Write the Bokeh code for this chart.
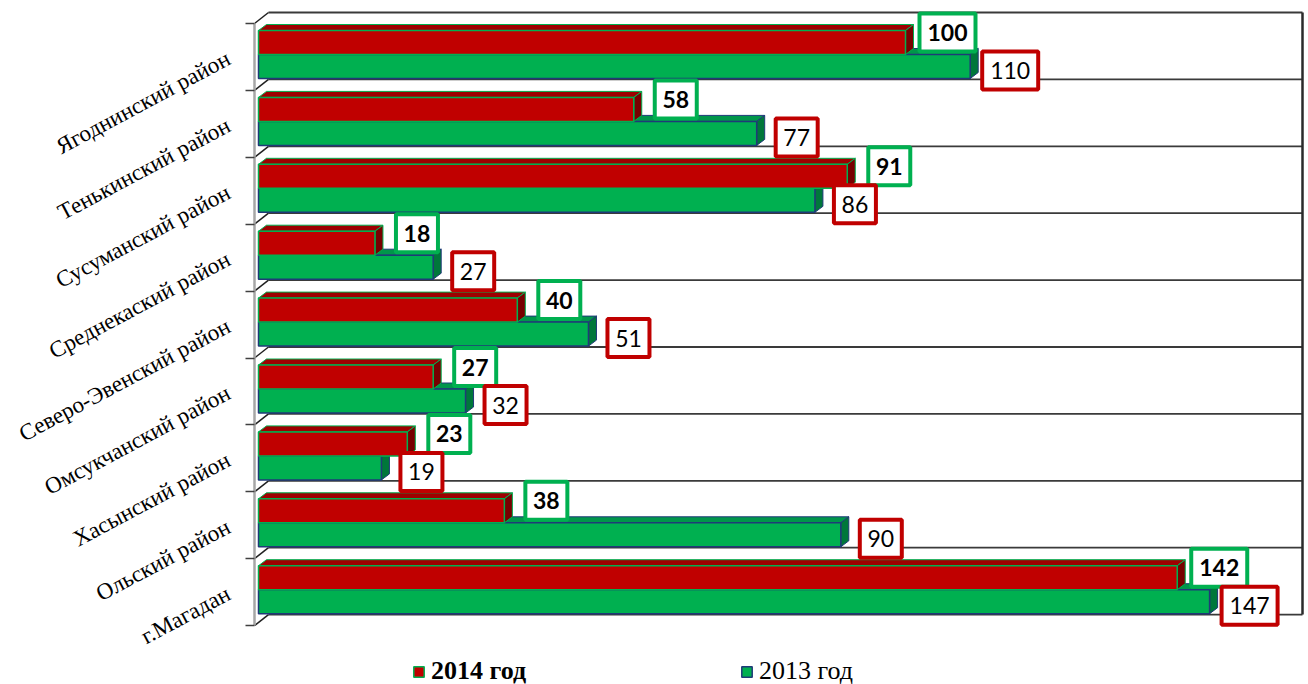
from bokeh.plotting import figure
from bokeh.models import Range1d, FixedTicker, ColumnDataSource, Legend, LegendItem
from bokeh.core.properties import value
from bokeh.embed import file_html
from bokeh.resources import INLINE

# ---------------- data ----------------
categories = ["Ягоднинский район", "Тенькинский район", "Сусуманский район",
              "Среднекаский район", "Северо-Эвенский район", "Омсукчанский район",
              "Хасынский район", "Ольский район", "г.Магадан"]
v2014 = [100, 58, 91, 18, 40, 27, 23, 38, 142]
v2013 = [110, 77, 86, 27, 51, 32, 19, 90, 147]
series_names = ["2014 год", "2013 год"]

# ---------------- colours ----------------
RED = "#C00000"
RED_TOP = "#9E0000"
RED_SIDE = "#780000"
GREEN = "#00B050"
GREEN_TOP = "#00964A"
GREEN_SIDE = "#00773A"
NAVY = "#1F3A78"

# ---------------- geometry helpers ----------------
W, H = 1308, 684
LEFT = 254          # frame left (px)
RIGHT_B = 3         # right border (px)
TOP_B = 10          # top border (px)
PX_X = 6.47         # pixels per value unit
PX_Y = 66.9         # pixels per category band
ux, uy = 1.0 / PX_X, 1.0 / PX_Y

x_start = -4 * ux
x_end = x_start + (W - LEFT - RIGHT_B) * ux
n = len(categories)
y_top = (n - 0.5) + 13 * uy
y_bot = y_top - (H - TOP_B) * uy

p = figure(width=W, height=H, x_range=Range1d(x_start, x_end), y_range=Range1d(y_bot, y_top),
           output_backend="svg", toolbar_location=None, x_axis_location=None,
           min_border_left=LEFT, min_border_right=RIGHT_B, min_border_top=TOP_B, min_border_bottom=0)
p.xgrid.visible = False
p.ygrid.visible = False
p.outline_line_color = None
p.background_fill_color = "white"

centers = [n - 1 - k for k in range(n)]
tops = [c + 0.5 for c in centers]
bounds = [b - 0.5 for b in range(n + 1)]

# back wall: gridlines, floor diagonals, right wall
back_dx, back_dy = 10 * ux, 11 * uy
wall_x = x_end - 3 * ux
p.segment(x0=[back_dx] * len(bounds), y0=[b + back_dy for b in bounds],
          x1=[wall_x] * len(bounds), y1=[b + back_dy for b in bounds],
          line_color="#3A3A3A", line_width=1.8)
p.segment(x0=[x_start] * len(bounds), y0=bounds,
          x1=[back_dx] * len(bounds), y1=[b + back_dy for b in bounds],
          line_color="#202020", line_width=1.5)
p.segment(x0=[wall_x], y0=[bounds[0] + back_dy], x1=[wall_x], y1=[bounds[-1] + back_dy],
          line_color="#2A2A2A", line_width=2.5)

# ---------------- 3D bars ----------------
ddx, ddy = 8 * ux, 6 * uy

def faces(vals, top_off, bot_off):
    front = dict(left=[0] * n, right=vals,
                 top=[t - top_off * uy for t in tops], bottom=[t - bot_off * uy for t in tops])
    top_xs, top_ys, side_xs, side_ys = [], [], [], []
    for v, t in zip(vals, tops):
        yt = t - top_off * uy
        yb = t - bot_off * uy
        top_xs.append([0, v, v + ddx, ddx])
        top_ys.append([yt, yt, yt + ddy, yt + ddy])
        side_xs.append([v, v + ddx, v + ddx, v])
        side_ys.append([yb, yb + ddy, yt + ddy, yt])
    return front, dict(xs=top_xs, ys=top_ys), dict(xs=side_xs, ys=side_ys)

g_front, g_top, g_side = faces(v2013, 31, 55)
r_front, r_top, r_side = faces(v2014, 7, 31)

p.patches(xs="xs", ys="ys", source=ColumnDataSource(g_top), fill_color=GREEN_TOP,
          line_color=NAVY, line_width=1)
p.patches(xs="xs", ys="ys", source=ColumnDataSource(g_side), fill_color=GREEN_SIDE,
          line_color=NAVY, line_width=1)
green_r = p.quad(left="left", right="right", top="top", bottom="bottom",
                 source=ColumnDataSource(g_front), fill_color=GREEN, line_color=NAVY, line_width=1.5)

p.patches(xs="xs", ys="ys", source=ColumnDataSource(r_top), fill_color=RED_TOP,
          line_color=GREEN, line_width=1)
p.patches(xs="xs", ys="ys", source=ColumnDataSource(r_side), fill_color=RED_SIDE,
          line_color=GREEN, line_width=1)
red_r = p.quad(left="left", right="right", top="top", bottom="bottom",
               source=ColumnDataSource(r_front), fill_color=RED, line_color=GREEN, line_width=1.5)

# ---------------- value labels ----------------
def box_w(s):
    return 56 if len(s) >= 3 else 42

lab14 = ColumnDataSource(dict(
    x=[v + 42 * ux for v in v2014], y=[t - 9 * uy for t in tops],
    t=[str(v) for v in v2014], w=[box_w(str(v)) for v in v2014]))
lab13 = ColumnDataSource(dict(
    x=[v + 40 * ux for v in v2013], y=[t - 47 * uy for t in tops],
    t=[str(v) for v in v2013], w=[box_w(str(v)) for v in v2013]))

p.rect(x="x", y="y", width="w", height=38, width_units="screen", height_units="screen",
       source=lab14, fill_color="white", line_color=GREEN, line_width=4)
p.text(x="x", y="y", text="t", source=lab14, text_font=value("Lato"), text_font_size="23px",
       text_font_style="bold", text_align="center", text_baseline="middle", text_color="black")
p.rect(x="x", y="y", width="w", height=38, width_units="screen", height_units="screen",
       source=lab13, fill_color="white", line_color=RED, line_width=4)
p.text(x="x", y="y", text="t", source=lab13, text_font=value("Lato"), text_font_size="23px",
       text_font_style="normal", text_align="center", text_baseline="middle", text_color="black")

# ---------------- category axis ----------------
ax = p.yaxis[0]
ax.ticker = FixedTicker(ticks=centers, minor_ticks=bounds)
ax.major_label_overrides = {c: name for c, name in zip(centers, categories)}
ax.major_label_orientation = 0.49
ax.major_tick_line_color = None
ax.major_tick_out = 0
ax.major_tick_in = 0
ax.minor_tick_out = 9
ax.minor_tick_in = 0
ax.minor_tick_line_color = "#404040"
ax.minor_tick_line_width = 1.5
ax.axis_line_color = "#A6A6A6"
ax.axis_line_width = 2.5
ax.bounds = (bounds[0], bounds[-1])
ax.major_label_standoff = 17
ax.major_label_text_font = "Liberation Serif"
ax.major_label_text_font_size = "23px"
ax.major_label_text_color = "black"

# ---------------- legend ----------------
def make_legend(label, rend, loc, style):
    lg = Legend(items=[LegendItem(label=value(label), renderers=[rend])], location=loc,
                orientation="horizontal", padding=0, margin=0, glyph_width=13, glyph_height=13,
                label_standoff=6, border_line_color=None, background_fill_alpha=0,
                label_text_font="Liberation Serif", label_text_font_size="26px",
                label_text_font_style=style, label_text_color="black")
    p.add_layout(lg)

make_legend(series_names[0], red_r, (158, -2), "bold")
make_legend(series_names[1], green_r, (486, -2), "normal")

open("out.html", "w").write(file_html(p, INLINE))
